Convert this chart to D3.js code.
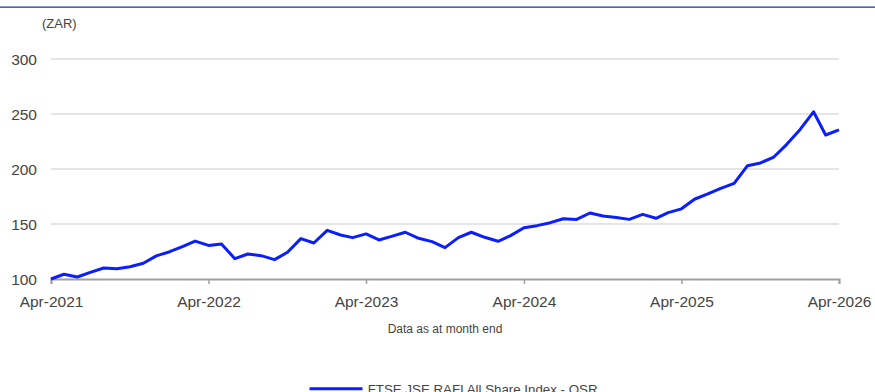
<!DOCTYPE html>
<html>
<head>
<meta charset="utf-8">
<script src="https://cdn.jsdelivr.net/npm/d3@7"></script>
<style>
  html, body { margin: 0; padding: 0; background: #fff; }
  svg { display: block; font-family: "Liberation Sans", Arial, sans-serif; }
</style>
</head>
<body>
<svg id="chart" width="875" height="392"></svg>
<script>
// ---- Data ----
const startMonth = "2021-04";
const seriesName = "FTSE JSE RAFI All Share Index - QSR";
const values = [
  100, 104.3, 101.8, 106, 110, 109.4, 111.2, 114.3, 121, 124.8, 129.7, 134.5,
  130.5, 131.8, 118.5, 122.7, 121.2, 117.6, 124.3, 136.7, 132.7, 144.2, 140, 137.6,
  141, 135.5, 139, 142.5, 137, 134, 128.5, 137.6, 142.5, 137.9, 134.3, 139.4,
  146.6, 148.5, 151.2, 154.8, 154.2, 160, 157.3, 156, 154.2, 158.8, 155.2, 160.3,
  163.8, 172.5, 177.3, 182.4, 187, 203, 205.5, 210.9, 222.4, 236, 252, 230.9,
  235.5
];
const xTickLabels = ["Apr-2021", "Apr-2022", "Apr-2023", "Apr-2024", "Apr-2025", "Apr-2026"];
const yTicks = [100, 150, 200, 250, 300];
const yUnit = "(ZAR)";
const footnote = "Data as at month end";

(function () {
  const parseMonth = d3.timeParse("%Y-%m");
  const start = parseMonth(startMonth);
  const data = values.map((v, i) => ({ date: d3.timeMonth.offset(start, i), value: v }));
  const parseTick = d3.timeParse("%b-%Y");
  const xTickDates = xTickLabels.map(parseTick);

  const svg = d3.select("#chart");
  const W = 875;
  const mLeft = 51, mRight = 839, mTop = 59, mBottom = 279;

  const x = d3.scaleTime()
    .domain([data[0].date, data[data.length - 1].date])
    .range([mLeft, mRight]);
  const y = d3.scaleLinear().domain([100, 300]).range([mBottom, mTop]);

  // top rule
  svg.append("line")
    .attr("x1", 0).attr("x2", W).attr("y1", 7.2).attr("y2", 7.2)
    .attr("stroke", "#1630b0").attr("stroke-width", 1.2);

  // gridlines
  svg.append("g")
    .selectAll("line")
    .data(yTicks.filter(t => t !== 100))
    .join("line")
    .attr("x1", mLeft).attr("x2", mRight)
    .attr("y1", d => y(d)).attr("y2", d => y(d))
    .attr("stroke", "#dcdcdc").attr("stroke-width", 1.3);

  // y labels
  svg.append("g")
    .selectAll("text")
    .data(yTicks)
    .join("text")
    .attr("x", 37).attr("y", d => y(d))
    .attr("dy", "0.36em")
    .attr("text-anchor", "end")
    .attr("fill", "#444")
    .attr("font-size", "15.5px")
    .text(d => d);

  // unit label
  svg.append("text")
    .attr("x", 42).attr("y", 27.5)
    .attr("fill", "#444").attr("font-size", "13px")
    .text(yUnit);

  // x axis
  const xAxis = d3.axisBottom(x)
    .tickValues(xTickDates)
    .tickSize(5)
    .tickPadding(12)
    .tickFormat(d3.timeFormat("%b-%Y"));
  const gx = svg.append("g").attr("transform", `translate(0,${mBottom})`).call(xAxis);
  gx.select(".domain").attr("stroke", "#a0a0a0").attr("stroke-width", 2);
  gx.selectAll(".tick line").attr("stroke", "#a0a0a0").attr("stroke-width", 1.5);
  gx.selectAll(".tick text")
    .attr("fill", "#444")
    .attr("font-size", "15.5px")
    .attr("font-family", "Liberation Sans, Arial, sans-serif");

  // series line
  const line = d3.line().x(d => x(d.date)).y(d => y(d.value));
  svg.append("path")
    .datum(data)
    .attr("d", line)
    .attr("fill", "none")
    .attr("stroke", "#0a1eff")
    .attr("stroke-width", 3)
    .attr("stroke-linejoin", "round");

  // footnote
  svg.append("text")
    .attr("x", (mLeft + mRight) / 2).attr("y", 333)
    .attr("text-anchor", "middle")
    .attr("fill", "#444").attr("font-size", "12px")
    .text(footnote);

  // legend
  const lg = svg.append("g");
  lg.append("line")
    .attr("x1", 309.5).attr("x2", 362.5)
    .attr("y1", 388.7).attr("y2", 388.7)
    .attr("stroke", "#0a1eff").attr("stroke-width", 3);
  lg.append("text")
    .attr("x", 367.7).attr("y", 393.7)
    .attr("fill", "#444").attr("font-size", "13.3px")
    .text(seriesName);
})();
</script>
</body>
</html>
